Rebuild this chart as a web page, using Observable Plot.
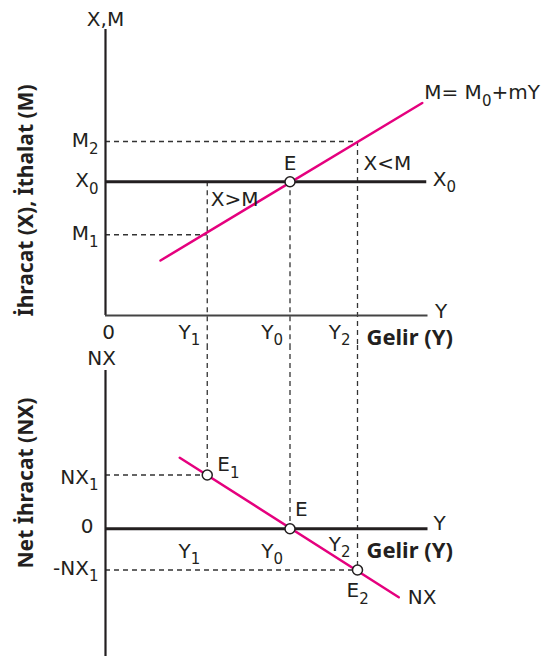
<!DOCTYPE html>
<html>
<head>
<meta charset="utf-8">
<script src="https://cdn.jsdelivr.net/npm/d3@7"></script>
<script src="https://cdn.jsdelivr.net/npm/@observablehq/plot@0.6"></script>
<style>
  html, body { margin: 0; padding: 0; background: #fff; }
  #chart svg { display: block; }
</style>
</head>
<body>
<div id="chart"></div>
<script>
// ---------- data ----------
const incomeLabels = ["Y_1", "Y_0", "Y_2"];
const incomeLevels = [4.07, 7.38, 10.08];          // Y1, Y0, Y2
const exportLabel = "X_0";
const exportLevel = 5.35;                          // X0
const importLabels = ["M_1", "M_2"];
const importLevels = [3.23, 6.96];                 // M1, M2
const importLineY = [2.2, 12.67];                  // M = M0 + mY
const importLineM = [2.2, 8.5];
const netLabels = ["NX_1", "0", "-NX_1"];
const netLevels = [2.15, 0, -1.65];                // NX1, 0, -NX1
const nxLineY = [2.97, 11.73];                     // NX line
const nxLineV = [2.84, -2.74];
const incomeMax = 12.9;
const topDomain = [0, 11.44];
const bottomDomain = [-5.11, 6.33];

// ---------- style ----------
const INK = "#231f20";
const PINK = "#e5007e";
const DASH = "#333";
const REG = "DejaVu Sans";
const BOLD = "Noto Sans";
const SUB_SIZE = "15px";
const SUB_SHIFT = 6.5;

const [Y1, Y0, Y2] = incomeLevels;
const [M1, M2] = importLevels;
const [NX1, NX0, NXn] = netLevels;

const importLine = importLineY.map((y, i) => ({y, m: importLineM[i]}));
const nxLine = nxLineY.map((y, i) => ({y, v: nxLineV[i]}));

function subscripts(svg) {
  svg.querySelectorAll("text").forEach(t => {
    const s = t.textContent;
    if (!s.includes("_")) return;
    while (t.firstChild) t.removeChild(t.firstChild);
    const parts = s.split(/_(\d)/);
    parts.forEach((p, i) => {
      if (!p) return;
      const ts = document.createElementNS("http://www.w3.org/2000/svg", "tspan");
      ts.textContent = p;
      if (i % 2 === 1) { ts.setAttribute("dy", SUB_SHIFT); ts.setAttribute("font-size", SUB_SIZE); }
      else if (i > 0) { ts.setAttribute("dy", -SUB_SHIFT); }
      t.appendChild(ts);
    });
  });
  return svg;
}

const dashOpts = {stroke: DASH, strokeWidth: 1.3, strokeDasharray: "5,4"};
const txt = {fontFamily: REG, fontSize: 20, fill: INK};
const boldTxt = {fontFamily: BOLD, fontSize: 22, fontWeight: "bold", fill: INK};

// ---------- top panel: exports & imports ----------
const topBottomEdge = -1.2;  // bottom edge of the top svg in data units
const topPlot = Plot.plot({
  width: 546, height: 345,
  marginLeft: 105, marginRight: 118.5, marginTop: 29, marginBottom: 30,
  x: {domain: [0, incomeMax], axis: null},
  y: {domain: topDomain, axis: null},
  style: {overflow: "visible", background: "#fff"},
  marks: [
    Plot.ruleY([{v: M2, to: Y2}, {v: M1, to: Y1}], {y: "v", x1: 0, x2: "to", ...dashOpts}),
    Plot.ruleX([{x: Y1, from: exportLevel}, {x: Y0, from: exportLevel}, {x: Y2, from: M2}],
      {x: "x", y1: "from", y2: topBottomEdge, ...dashOpts}),
    Plot.ruleX([0], {y1: topDomain[0], y2: topDomain[1], stroke: INK, strokeWidth: 2.2}),
    Plot.ruleY([0], {x1: 0, x2: incomeMax, stroke: "#444", strokeWidth: 2}),
    Plot.ruleY([exportLevel], {x1: 0, x2: incomeMax - 0.05, stroke: INK, strokeWidth: 2.8}),
    Plot.line(importLine, {x: "y", y: "m", stroke: PINK, strokeWidth: 2.5}),
    Plot.dot([{x: Y0, y: exportLevel}], {x: "x", y: "y", r: 5, fill: "#fff", stroke: INK, strokeWidth: 1.5}),
    // axis names
    Plot.text(["X,M"], {x: 0, y: topDomain[1], text: d => d, textAnchor: "middle", lineAnchor: "bottom", dy: -4, ...txt}),
    Plot.text(["Y"], {x: incomeMax, y: 0, text: d => d, textAnchor: "start", lineAnchor: "bottom", dx: 7, dy: 2, ...txt}),
    // left tick labels
    Plot.text([importLabels[1], exportLabel, importLabels[0]], {
      x: 0, y: [M2, exportLevel, M1], text: d => d, textAnchor: "end", lineAnchor: "bottom", dx: -7, dy: 5.5, ...txt}),
    // bottom tick labels
    Plot.text(["0"], {x: 0, y: 0, text: d => d, textAnchor: "middle", lineAnchor: "bottom", dx: 3, dy: 23, ...txt}),
    Plot.text(incomeLabels, {x: incomeLevels, y: 0, text: d => d, textAnchor: "end", lineAnchor: "bottom", dx: -7, dy: 23, ...txt}),
    Plot.text(["Gelir (Y)"], {x: Y2, y: 0, text: d => d, textAnchor: "start", lineAnchor: "bottom", dx: 9, dy: 29, ...boldTxt}),
    // annotations
    Plot.text([exportLabel], {x: incomeMax - 0.05, y: exportLevel, text: d => d, textAnchor: "start", lineAnchor: "bottom", dx: 6, dy: 4, ...txt}),
    Plot.text(["M= M_0+mY"], {x: importLineY[1], y: importLineM[1], text: d => d, textAnchor: "start", lineAnchor: "bottom", dx: 2, dy: -4, ...txt}),
    Plot.text(["E"], {x: Y0, y: exportLevel, text: d => d, textAnchor: "middle", lineAnchor: "bottom", dy: -12, ...txt}),
    Plot.text(["X<M"], {x: Y2, y: exportLevel, text: d => d, textAnchor: "start", lineAnchor: "bottom", dx: 6, dy: -12, ...txt}),
    Plot.text(["X>M"], {x: Y1, y: exportLevel, text: d => d, textAnchor: "start", lineAnchor: "bottom", dx: 3.5, dy: 24, ...txt}),
    // vertical title
    Plot.text(["İhracat (X), İthalat (M)"], {frameAnchor: "left", text: d => d, rotate: -90, textAnchor: "middle", lineAnchor: "middle",
      dx: -79, dy: 28, ...boldTxt, fontSize: 21})
  ]
});

// ---------- bottom panel: net exports ----------
const bottomTopEdge = bottomDomain[1] + 1;  // top edge of the bottom svg in data units
const botPlot = Plot.plot({
  width: 546, height: 311,
  marginLeft: 105, marginRight: 118.5, marginTop: 25, marginBottom: 0,
  x: {domain: [0, incomeMax], axis: null},
  y: {domain: bottomDomain, axis: null},
  style: {overflow: "visible", background: "#fff"},
  marks: [
    Plot.ruleY([{v: NX1, to: Y1}, {v: NXn, to: Y2}], {y: "v", x1: 0, x2: "to", ...dashOpts}),
    Plot.ruleX([{x: Y1, to: NX1}, {x: Y0, to: NX0}, {x: Y2, to: NXn}],
      {x: "x", y1: bottomTopEdge, y2: "to", ...dashOpts}),
    Plot.ruleX([0], {y1: bottomDomain[0], y2: bottomDomain[1], stroke: INK, strokeWidth: 2.2}),
    Plot.ruleY([0], {x1: 0, x2: incomeMax, stroke: INK, strokeWidth: 2.8}),
    Plot.line(nxLine, {x: "y", y: "v", stroke: PINK, strokeWidth: 2.5}),
    Plot.dot([{x: Y1, y: NX1}, {x: Y0, y: NX0}, {x: Y2, y: NXn}], {x: "x", y: "y", r: 5, fill: "#fff", stroke: INK, strokeWidth: 1.5}),
    Plot.text(["NX"], {x: 0, y: bottomDomain[1], text: d => d, textAnchor: "middle", lineAnchor: "bottom", dx: -4, dy: -6, ...txt}),
    Plot.text(["Y"], {x: incomeMax, y: 0, text: d => d, textAnchor: "start", lineAnchor: "bottom", dx: 5.5, dy: 1.5, ...txt}),
    // left tick labels
    Plot.text([netLabels[0]], {x: 0, y: NX1, text: d => d, textAnchor: "end", lineAnchor: "bottom", dx: -7, dy: 8.5, ...txt}),
    Plot.text([netLabels[1]], {x: 0, y: NX0, text: d => d, textAnchor: "end", lineAnchor: "bottom", dx: -12, dy: 4, ...txt}),
    Plot.text([netLabels[2]], {x: 0, y: NXn, text: d => d, textAnchor: "end", lineAnchor: "bottom", dx: -7, dy: 4.5, ...txt}),
    // income labels
    Plot.text(incomeLabels.slice(0, 2), {x: incomeLevels.slice(0, 2), y: 0, text: d => d, textAnchor: "end", lineAnchor: "bottom", dx: -7, dy: 29, ...txt}),
    Plot.text([incomeLabels[2]], {x: Y2, y: 0, text: d => d, textAnchor: "end", lineAnchor: "bottom", dx: -7, dy: 22, ...txt}),
    Plot.text(["Gelir (Y)"], {x: Y2, y: 0, text: d => d, textAnchor: "start", lineAnchor: "bottom", dx: 9, dy: 29, ...boldTxt}),
    // point labels
    Plot.text(["E_1"], {x: Y1, y: NX1, text: d => d, textAnchor: "start", lineAnchor: "bottom", dx: 10, dy: -4, ...txt}),
    Plot.text(["E"], {x: Y0, y: NX0, text: d => d, textAnchor: "start", lineAnchor: "bottom", dx: 5, dy: -12.5, ...txt}),
    Plot.text(["E_2"], {x: Y2, y: NXn, text: d => d, textAnchor: "start", lineAnchor: "bottom", dx: -11, dy: 27, ...txt}),
    Plot.text(["NX"], {x: nxLineY[1], y: nxLineV[1], text: d => d, textAnchor: "start", lineAnchor: "bottom", dx: 9, dy: 7, ...txt}),
    Plot.text(["Net İhracat (NX)"], {frameAnchor: "left", text: d => d, rotate: -90, textAnchor: "middle", lineAnchor: "middle",
      dx: -79, dy: -30.5, ...boldTxt, fontSize: 21})
  ]
});

const chart = document.getElementById("chart");
chart.appendChild(subscripts(topPlot));
chart.appendChild(subscripts(botPlot));
</script>
</body>
</html>
